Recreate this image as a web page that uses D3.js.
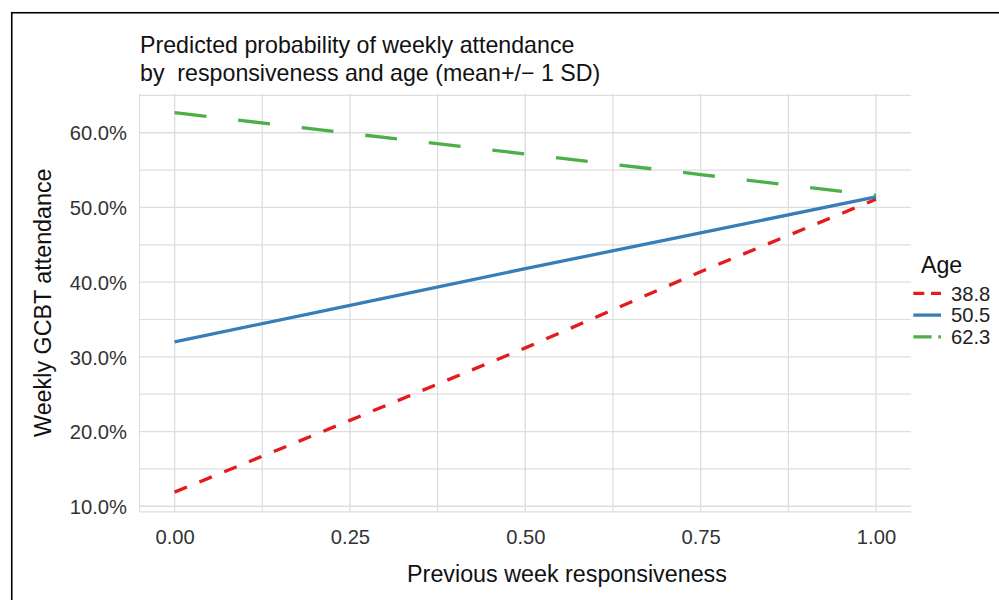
<!DOCTYPE html>
<html>
<head>
<meta charset="utf-8">
<script src="https://cdn.jsdelivr.net/npm/d3@7"></script>
<style>
  html, body { margin: 0; padding: 0; background: #fff; }
  svg { display: block; font-family: "Liberation Sans", Arial, Helvetica, sans-serif; }
</style>
</head>
<body>
<svg id="chart" width="999" height="600"></svg>
<script>
// ---- data ----
const responsiveness = [0, 0.25, 0.5, 0.75, 1];
const ageLevels = ["38.8", "50.5", "62.3"];
const age388 = [0.119, 0.215, 0.312, 0.414, 0.511];
const age505 = [0.320, 0.369, 0.418, 0.466, 0.514];
const age623 = [0.627, 0.599, 0.5715, 0.544, 0.516];
const xTicks = [0, 0.25, 0.5, 0.75, 1];
const xTickLabels = ["0.00", "0.25", "0.50", "0.75", "1.00"];
const yTicks = [0.1, 0.2, 0.3, 0.4, 0.5, 0.6];
const yTickLabels = ["10.0%", "20.0%", "30.0%", "40.0%", "50.0%", "60.0%"];
const xMinor = [0.125, 0.375, 0.625, 0.875];
const yMinor = [0.15, 0.25, 0.35, 0.45, 0.55, 0.65];
const titleLines = ["Predicted probability of weekly attendance", "by  responsiveness and age (mean+/\u2212 1 SD)"];
const xTitle = "Previous week responsiveness";
const yTitle = "Weekly GCBT attendance";
const legendTitle = "Age";

const seriesList = [
  { name: ageLevels[0], values: age388, color: "#E41A1C", dash: "13.4,13.4", keyDash: "11,6.7" },
  { name: ageLevels[1], values: age505, color: "#377EB8", dash: null, keyDash: null },
  { name: ageLevels[2], values: age623, color: "#4DAF4A", dash: "32,32", keyDash: "18.3,6.7" }
];

// ---- layout ----
const svg = d3.select("#chart");
const x = d3.scaleLinear().domain([0, 1]).range([174.6, 876]);
const y = d3.scaleLinear().domain([0.1, 0.6]).range([506.3, 132.7]);
const xLim = [-0.05, 1.05];
const yLim = [0.0925, 0.6525];
const pL = x(xLim[0]), pR = x(xLim[1]), pT = y(yLim[1]), pB = y(yLim[0]);

// outer border
svg.append("rect").attr("x", 11.75).attr("y", 12.75).attr("width", 2000).attr("height", 2000)
  .attr("fill", "none").attr("stroke", "#000").attr("stroke-width", 1.6);

const grid = svg.append("g");
const gridColor = "#DEDEDE";
// minor
xMinor.forEach(v => grid.append("line").attr("x1", x(v)).attr("x2", x(v)).attr("y1", pT).attr("y2", pB)
  .attr("stroke", gridColor).attr("stroke-width", 1.2));
yMinor.filter(v => v <= yLim[1]).forEach(v => grid.append("line").attr("x1", pL).attr("x2", pR).attr("y1", y(v)).attr("y2", y(v))
  .attr("stroke", gridColor).attr("stroke-width", 1.2));
// squished edge minor lines
grid.append("line").attr("x1", pL).attr("x2", pR).attr("y1", pB).attr("y2", pB).attr("stroke", gridColor).attr("stroke-width", 1.2);
grid.append("line").attr("x1", pL).attr("x2", pL).attr("y1", pT).attr("y2", pB).attr("stroke", gridColor).attr("stroke-width", 1.2);
// major
xTicks.forEach(v => grid.append("line").attr("x1", x(v)).attr("x2", x(v)).attr("y1", pT).attr("y2", pB)
  .attr("stroke", gridColor).attr("stroke-width", 1.4));
yTicks.forEach(v => grid.append("line").attr("x1", pL).attr("x2", pR).attr("y1", y(v)).attr("y2", y(v))
  .attr("stroke", gridColor).attr("stroke-width", 1.4));

// axes (labels only)
const xAxis = d3.axisBottom(x).tickValues(xTicks).tickFormat((d, i) => xTickLabels[i]).tickSize(0).tickPadding(0);
const gx = svg.append("g").attr("transform", `translate(0,${pB})`).call(xAxis);
gx.select(".domain").remove();
gx.selectAll("text").attr("y", 544 - pB).attr("dy", null).attr("fill", "#333")
  .style("font-size", "20.2px").style("font-family", "Liberation Sans, Arial, sans-serif");

const yAxis = d3.axisLeft(y).tickValues(yTicks).tickFormat((d, i) => yTickLabels[i]).tickSize(0).tickPadding(0);
const gy = svg.append("g").attr("transform", `translate(127,0)`).call(yAxis);
gy.select(".domain").remove();
gy.selectAll("text").attr("x", 0).attr("dy", "0.36em").attr("fill", "#333")
  .style("font-size", "20.2px").style("font-family", "Liberation Sans, Arial, sans-serif");

// lines
const line = d3.line().x((d, i) => x(responsiveness[i])).y(d => y(d));
seriesList.forEach(s => {
  const p = svg.append("path").attr("d", line(s.values)).attr("fill", "none")
    .attr("stroke", s.color).attr("stroke-width", 3.3).attr("stroke-linecap", "butt");
  if (s.dash) p.attr("stroke-dasharray", s.dash);
});

// titles
const t = svg.append("text").attr("fill", "#111").style("font-size", "23.2px").style("white-space", "pre");
titleLines.forEach((l, i) => t.append("tspan").attr("x", 140).attr("y", 53.3 + i * 27.6).text(l));

svg.append("text").attr("x", 567).attr("y", 582).attr("text-anchor", "middle")
  .attr("fill", "#111").style("font-size", "23.3px").text(xTitle);
svg.append("text").attr("transform", `translate(51,${(pT + pB) / 2}) rotate(-90)`).attr("text-anchor", "middle")
  .attr("fill", "#111").style("font-size", "23.3px").text(yTitle);

// legend
const lg = svg.append("g");
lg.append("text").attr("x", 921).attr("y", 273.3).attr("fill", "#111").style("font-size", "23.2px").text(legendTitle);
const keyY = [293.3, 315.1, 336.8];
seriesList.forEach((s, i) => {
  const k = lg.append("line").attr("x1", 913.3).attr("x2", 941).attr("y1", keyY[i]).attr("y2", keyY[i])
    .attr("stroke", s.color).attr("stroke-width", 3.3);
  if (s.keyDash) k.attr("stroke-dasharray", s.keyDash);
  lg.append("text").attr("x", 951).attr("y", keyY[i]).attr("dy", "0.36em").attr("fill", "#222")
    .style("font-size", "20.2px").text(s.name);
});
</script>
</body>
</html>
